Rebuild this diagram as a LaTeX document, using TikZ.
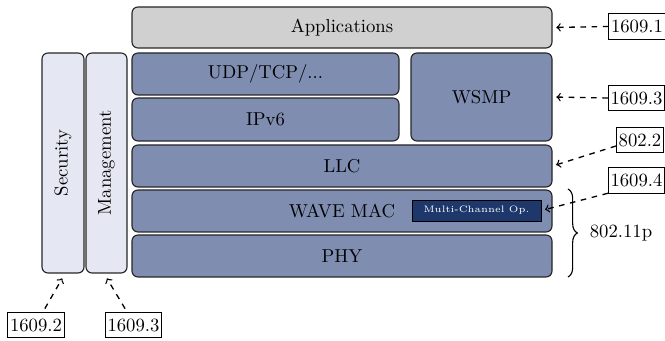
\documentclass[tikz,border=0pt]{standalone}
\usepackage{fontspec}
\usetikzlibrary{fit,calc,decorations.pathreplacing}
\definecolor{layerblue}{RGB}{127,141,177}
\definecolor{appgray}{RGB}{208,208,208}
\definecolor{sidefill}{RGB}{229,232,242}
\definecolor{mcnavy}{RGB}{30,56,108}
\begin{document}
\begin{tikzpicture}[x=0.535pt,y=-0.535pt,
  layer/.style={draw=black!85, line width=0.6pt, rounded corners=3.2pt, fill=layerblue, inner sep=0pt},
  applayer/.style={layer, fill=appgray},
  sidelayer/.style={layer, fill=sidefill},
  mcbox/.style={draw=black, line width=0.5pt, fill=mcnavy, inner sep=0pt},
  stdbox/.style={draw, line width=0.4pt, inner xsep=1.2pt, inner ysep=3.4pt},
  dasharrow/.style={->, dashed, line width=0.7pt, shorten >=2pt}]
\path[use as bounding box] (0,0) rectangle (665,341);

\node[applayer, fit={(132,7)(552,48)}, label={center:Applications}] (app) {};
\node[layer, fit={(132,53)(399,95)}, label={center:UDP/TCP/...}] (udp) {};
\node[layer, fit={(132,98)(399,141)}, label={center:IPv6}] (ipv) {};
\node[layer, fit={(411,53)(552,141)}, label={center:WSMP}] (wsmp) {};
\node[layer, fit={(132,145)(552,187)}, label={center:LLC}] (llc) {};
\node[layer, fit={(132,190)(552,232)}, label={center:WAVE MAC}] (mac) {};
\node[layer, fit={(132,235)(552,277)}, label={center:PHY}] (phy) {};
\node[sidelayer, fit={(42,53)(84,273)}, label={[rotate=90]center:Security}] (sec) {};
\node[sidelayer, fit={(86,53)(127,273)}, label={[rotate=90]center:Management}] (mgmt) {};
\node[mcbox, fit={(412,200)(541,221)}, label={[text=white, font=\tiny\addfontfeatures{LetterSpace=14}]center:Multi-Channel Op.}] (mc) {};

\node[stdbox] (r1) at (637,26.5) {1609.1};
\node[stdbox] (r3) at (636.5,98) {1609.3};
\node[stdbox] (r2) at (640,140) {802.2};
\node[stdbox] (r4) at (636.5,180) {1609.4};
\node[stdbox] (b2) at (36,325) {1609.2};
\node[stdbox] (b3) at (133.5,325) {1609.3};

\draw[dasharrow] (r1.west) -- (app.east);
\draw[dasharrow] (r3.west) -- (wsmp.east);
\draw[dasharrow] (r2.194) -- (llc.east);
\draw[dasharrow] (r4.south west) -- (mc.east);
\draw[dasharrow, shorten <=2pt, shorten >=3pt] ($(b2.north)+(7,0)$) -- ($(sec.south)+(2,0)$);
\draw[dasharrow, shorten <=2pt, shorten >=3pt] ($(b3.north)+(-6.5,0)$) -- ($(mgmt.south)+(-2.5,0)$);

\coordinate (bt) at (568,189);
\coordinate (bb) at (568,277);
\draw[decorate, decoration={brace, amplitude=5pt}, line width=0.6pt] (bt) -- (bb);
\node (std) at (621,233) {802.11p};
\end{tikzpicture}
\end{document}
